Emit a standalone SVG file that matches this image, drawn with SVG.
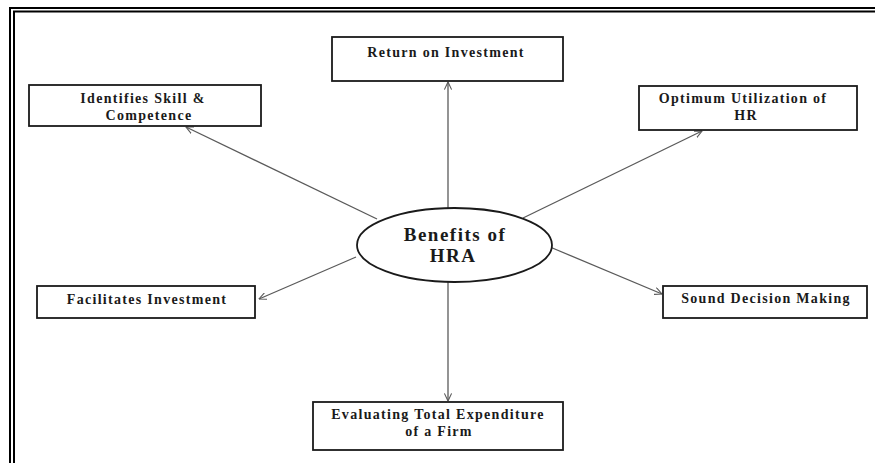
<svg xmlns="http://www.w3.org/2000/svg" width="875" height="463" viewBox="0 0 875 463">
<defs>
<style>
.frame{fill:none;stroke:#000;stroke-width:2}
.box{fill:#fff;stroke:#1a1a1a;stroke-width:1.8}
.lbl{font-family:"Liberation Serif","Times New Roman",serif;font-weight:bold;font-size:14px;fill:#1a1a1a;text-anchor:middle;letter-spacing:1.3px}
.big{font-size:19px;letter-spacing:1.5px}
.conn{stroke:#5a5a5a;stroke-width:1.3;fill:none;marker-end:url(#arr)}
</style>
<marker id="arr" viewBox="0 0 10 10" refX="9.5" refY="5" markerWidth="8" markerHeight="8" markerUnits="userSpaceOnUse" orient="auto">
<path d="M0,0.5 L9.5,5 L0,9.5" fill="none" stroke="#5a5a5a" stroke-width="1.4"/>
</marker>
</defs>
<rect width="875" height="463" fill="#fff"/>
<g id="frame">
<path class="frame" d="M10,463 V8 H875"/>
<path class="frame" d="M14,463 V11.5 H875"/>
</g>
<g id="connectors">
<line class="conn" x1="448" y1="208" x2="448" y2="82"/>
<line class="conn" x1="377" y1="219" x2="186" y2="127"/>
<line class="conn" x1="523" y1="218" x2="702" y2="131"/>
<line class="conn" x1="356" y1="257" x2="259" y2="299"/>
<line class="conn" x1="550" y1="247" x2="662" y2="294"/>
<line class="conn" x1="448" y1="282" x2="448" y2="401"/>
</g>
<g id="center">
<ellipse cx="454.5" cy="245" rx="97.5" ry="37" fill="#fff" stroke="#1a1a1a" stroke-width="1.8"/>
<text class="lbl big" x="455" y="241">Benefits of</text>
<text class="lbl big" x="453" y="262">HRA</text>
</g>
<g id="roi">
<rect class="box" x="332" y="37" width="231" height="44"/>
<text class="lbl" x="446" y="57">Return on Investment</text>
</g>
<g id="skill">
<rect class="box" x="29" y="85" width="232" height="41"/>
<text class="lbl" x="143" y="103">Identifies Skill &amp;</text>
<text class="lbl" x="149" y="120">Competence</text>
</g>
<g id="optimum">
<rect class="box" x="639" y="86" width="218" height="44"/>
<text class="lbl" x="743" y="103">Optimum Utilization of</text>
<text class="lbl" x="746" y="120">HR</text>
</g>
<g id="facilitates">
<rect class="box" x="37" y="286" width="218" height="32"/>
<text class="lbl" x="147" y="304">Facilitates Investment</text>
</g>
<g id="sound">
<rect class="box" x="663" y="286" width="204" height="32"/>
<text class="lbl" x="766" y="303">Sound Decision Making</text>
</g>
<g id="evaluating">
<rect class="box" x="313" y="402" width="250" height="48"/>
<text class="lbl" x="438" y="419">Evaluating Total Expenditure</text>
<text class="lbl" x="439" y="436">of a Firm</text>
</g>
</svg>
